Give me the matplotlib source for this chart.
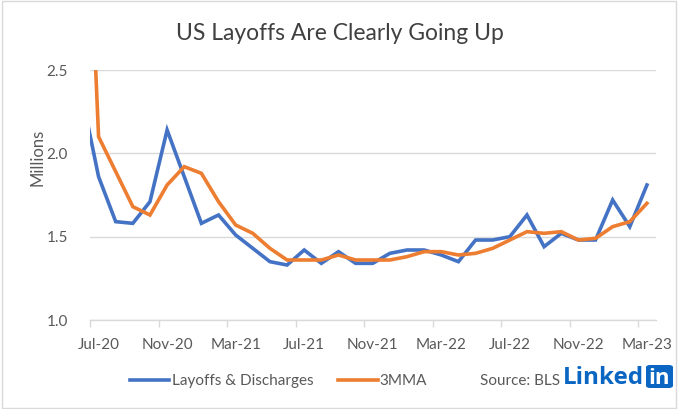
import numpy as np
import matplotlib.pyplot as plt
from matplotlib.patches import Rectangle, FancyBboxPatch
from matplotlib.lines import Line2D

# monthly data; Jun-20 sits just outside the left edge of the axis
months = ["Jun-20", "Jul-20", "Aug-20", "Sep-20", "Oct-20", "Nov-20", "Dec-20",
          "Jan-21", "Feb-21", "Mar-21", "Apr-21", "May-21", "Jun-21",
          "Jul-21", "Aug-21", "Sep-21", "Oct-21", "Nov-21", "Dec-21",
          "Jan-22", "Feb-22", "Mar-22", "Apr-22", "May-22", "Jun-22",
          "Jul-22", "Aug-22", "Sep-22", "Oct-22", "Nov-22", "Dec-22",
          "Jan-23", "Feb-23", "Mar-23"]

layoffs = [2.36, 1.86, 1.59, 1.58, 1.71, 2.14, 1.86,
           1.58, 1.63, 1.51, 1.43, 1.35, 1.33,
           1.42, 1.34, 1.41, 1.34, 1.34, 1.40,
           1.42, 1.42, 1.39, 1.35, 1.48, 1.48,
           1.50, 1.63, 1.44, 1.52, 1.48, 1.48,
           1.72, 1.56, 1.81]

mma3 = [4.50, 2.10, 1.89, 1.68, 1.63, 1.81, 1.92,
        1.88, 1.71, 1.57, 1.52, 1.43, 1.36,
        1.36, 1.36, 1.39, 1.36, 1.36, 1.36,
        1.38, 1.41, 1.41, 1.39, 1.40, 1.43,
        1.48, 1.53, 1.52, 1.53, 1.48, 1.49,
        1.56, 1.59, 1.70]

yticks = [1.0, 1.5, 2.0, 2.5]

BLUE = "#4472C4"
ORANGE = "#ED7D31"
GRID = "#d9d9d9"
TXT = "#595959"
LI_BLUE = "#0a66c2"

plt.rcParams["font.family"] = ["Lato", "DejaVu Sans"]

W, H = 680, 409
fig = plt.figure(figsize=(6.8, 4.09), dpi=100)
ax = fig.add_axes([90 / W, 1 - 320 / H, 565.5 / W, 250 / H])

x = np.arange(len(months))
ax.plot(x, layoffs, color=BLUE, lw=2.6, solid_joinstyle="miter")
ax.plot(x, mma3, color=ORANGE, lw=2.6, solid_joinstyle="miter")

ax.set_xlim(0.5, len(months) - 0.5)
ax.set_ylim(1.0, 2.5)

# labels under every 4th month, tick marks between categories
lab_idx = list(range(1, len(months), 4))
ax.set_xticks(lab_idx)
ax.set_xticklabels([months[i] for i in lab_idx], color=TXT, fontsize=11)
ax.set_xticks([i - 0.5 for i in lab_idx], minor=True)
ax.tick_params(axis="x", which="major", length=0, pad=13)
ax.tick_params(axis="x", which="minor", length=5, color=GRID, width=1)

ax.set_yticks(yticks)
ax.set_yticklabels([f"{v:.1f}" for v in yticks], color=TXT, fontsize=11)
ax.tick_params(axis="y", length=0, pad=16)
ax.yaxis.grid(True, color=GRID, lw=1)
ax.set_axisbelow(True)

for s in ["top", "right", "left"]:
    ax.spines[s].set_visible(False)
ax.spines["bottom"].set_color(GRID)
ax.spines["bottom"].set_linewidth(1)

fig.text(37 / W, 1 - 157 / H, "Millions", rotation=90, ha="center",
         va="center", color=TXT, fontsize=12)
fig.text(0.5, 1 - 34 / H, "US Layoffs Are Clearly Going Up", ha="center",
         va="center", color="#404040", fontsize=16.5)

handles = [Line2D([], [], color=BLUE, lw=2.6), Line2D([], [], color=ORANGE, lw=2.6)]
fig.legend(handles, ["Layoffs & Discharges", "3MMA"], loc="center left",
           bbox_to_anchor=(116 / W, 1 - 381 / H), ncol=2, frameon=False,
           fontsize=11, handlelength=2.6, handletextpad=0.15, columnspacing=1.6,
           labelcolor=TXT)

fig.text(480 / W, 1 - 381 / H, "Source: BLS", ha="left", va="center",
         color=TXT, fontsize=11)
fig.text(644 / W, 1 - 378 / H, "Linked", ha="right", va="center",
         color=LI_BLUE, fontsize=17.5, fontweight="bold", family="Open Sans")
# the "in" badge
fig.add_artist(FancyBboxPatch((646 / W, 1 - 388 / H), 27 / W, 23 / H,
                              boxstyle="round,pad=0,rounding_size=0.006",
                              transform=fig.transFigure, fc=LI_BLUE, ec="none"))
fig.text(659.5 / W, 1 - 378 / H, "in", ha="center", va="center",
         color="white", fontsize=16, fontweight="bold", family="Open Sans")

fig.add_artist(Rectangle((0.003, 0.003), 0.991, 0.994, transform=fig.transFigure,
                         fill=False, ec=GRID, lw=1))

fig.savefig("out.png", dpi=100)
